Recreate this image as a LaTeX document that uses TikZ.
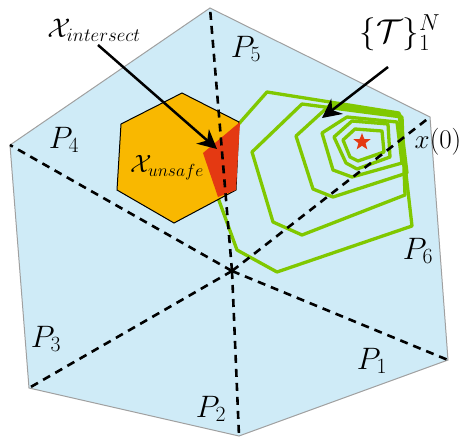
\RequirePackage{fix-cm}
\documentclass[tikz,border=0pt]{standalone}
\usetikzlibrary{arrows.meta,shapes.geometric}
\definecolor{regblue}{RGB}{207,235,247}
\definecolor{ringgreen}{RGB}{128,200,0}
\definecolor{unsafeorange}{RGB}{249,184,0}
\definecolor{interred}{RGB}{228,57,18}
\definecolor{bordergray}{RGB}{160,160,160}
\begin{document}
\begin{tikzpicture}[x=1pt,y=-1pt,
  region/.style={fill=regblue,draw=bordergray,line width=1pt},
  part/.style={dashed,line width=2.6pt,dash pattern=on 8pt off 6pt},
  ring/.style={draw=ringgreen,line width=3.3pt,line join=round},
  plabel/.style={inner sep=0pt,font=\fontsize{31}{36}\selectfont},
  arr/.style={line width=2.5pt,-{Stealth[length=19pt,width=19pt,inset=6pt]}}]
\useasboundingbox (0,0) rectangle (469,437);
% outer region
\coordinate (V5) at (210,8);
\coordinate (V6) at (430,117);
\coordinate (V1) at (448,360);
\coordinate (V2) at (239,436);
\coordinate (V3) at (29,388);
\coordinate (V4) at (10,145);
\coordinate (C) at (232,271);
\draw[region] (V5) -- (V6) -- (V1) -- (V2) -- (V3) -- (V4) -- cycle;
% rings
\draw[ring] (205,162) -- (267,92) -- (399,113) -- (412,226) -- (277,272) -- (237,250) -- cycle;
\draw[ring] (252,152) -- (302,104) -- (402,117) -- (405,195) -- (302,235) -- (273,222) -- cycle;
\draw[ring] (296,136) -- (330,105) -- (400,115) -- (407,173) -- (333,197) -- (313,189) -- cycle;
\draw[ring] (322,133) -- (347,117) -- (397,122) -- (402,163) -- (352,177) -- (333,170) -- cycle;
\draw[ring] (334,137) -- (352,121) -- (388,124) -- (390,157) -- (357,169) -- (346,163) -- cycle;
\draw[ring] (343,140) -- (355,129) -- (382,131) -- (384,152) -- (358,161) -- (350,157) -- cycle;
% unsafe set
\draw[fill=unsafeorange,line width=1pt] (182,93) -- (239,122) -- (236,190) -- (174,223) -- (117,190) -- (121,124) -- cycle;
\fill[interred] (203,153) -- (240,122) -- (236,190) -- (218,197) -- cycle;
% partition lines
\draw[part] (C) -- (V5);
\draw[part] (C) -- (V6);
\draw[part] (C) -- (V1);
\draw[part] (C) -- (V2);
\draw[part] (C) -- (V3);
\draw[part] (C) -- (V4);
% star
\node[star,star points=5,star point ratio=2.4,fill=interred,minimum size=18pt,inner sep=0pt] (goal) at (362,142) {};
% labels
\node[plabel] (P1) at (372,361) {$P_1$};
\node[plabel] (P2) at (211,409) {$P_2$};
\node[plabel] (P3) at (46,339) {$P_3$};
\node[plabel] (P4) at (64,140) {$P_4$};
\node[plabel] (P5) at (246,49) {$P_5$};
\node[plabel] (P6) at (418,251) {$P_6$};
\node[inner sep=0pt,font=\fontsize{27}{32}\selectfont] (Lint) at (94,30) {$\mathcal{X}_{intersect}$};
\node[inner sep=0pt,font=\fontsize{25}{30}\selectfont] (Lun) at (167,168) {$\mathcal{X}_{unsafe}$};
\node[inner sep=0pt,font=\fontsize{33}{38}\selectfont] (Ltr) at (400,33) {$\{\mathcal{T}\}_1^N$};
\node[inner sep=0pt,font=\fontsize{27}{32}\selectfont] (Lx0) at (438,142) {$x(0)$};
% arrows
\coordinate (a1s) at (98,45);
\coordinate (a1e) at (217,149);
\coordinate (a2s) at (388,67);
\coordinate (a2e) at (322,118);
\draw[arr] (a1s) -- (a1e);
\draw[arr] (a2s) -- (a2e);
\end{tikzpicture}
\end{document}
